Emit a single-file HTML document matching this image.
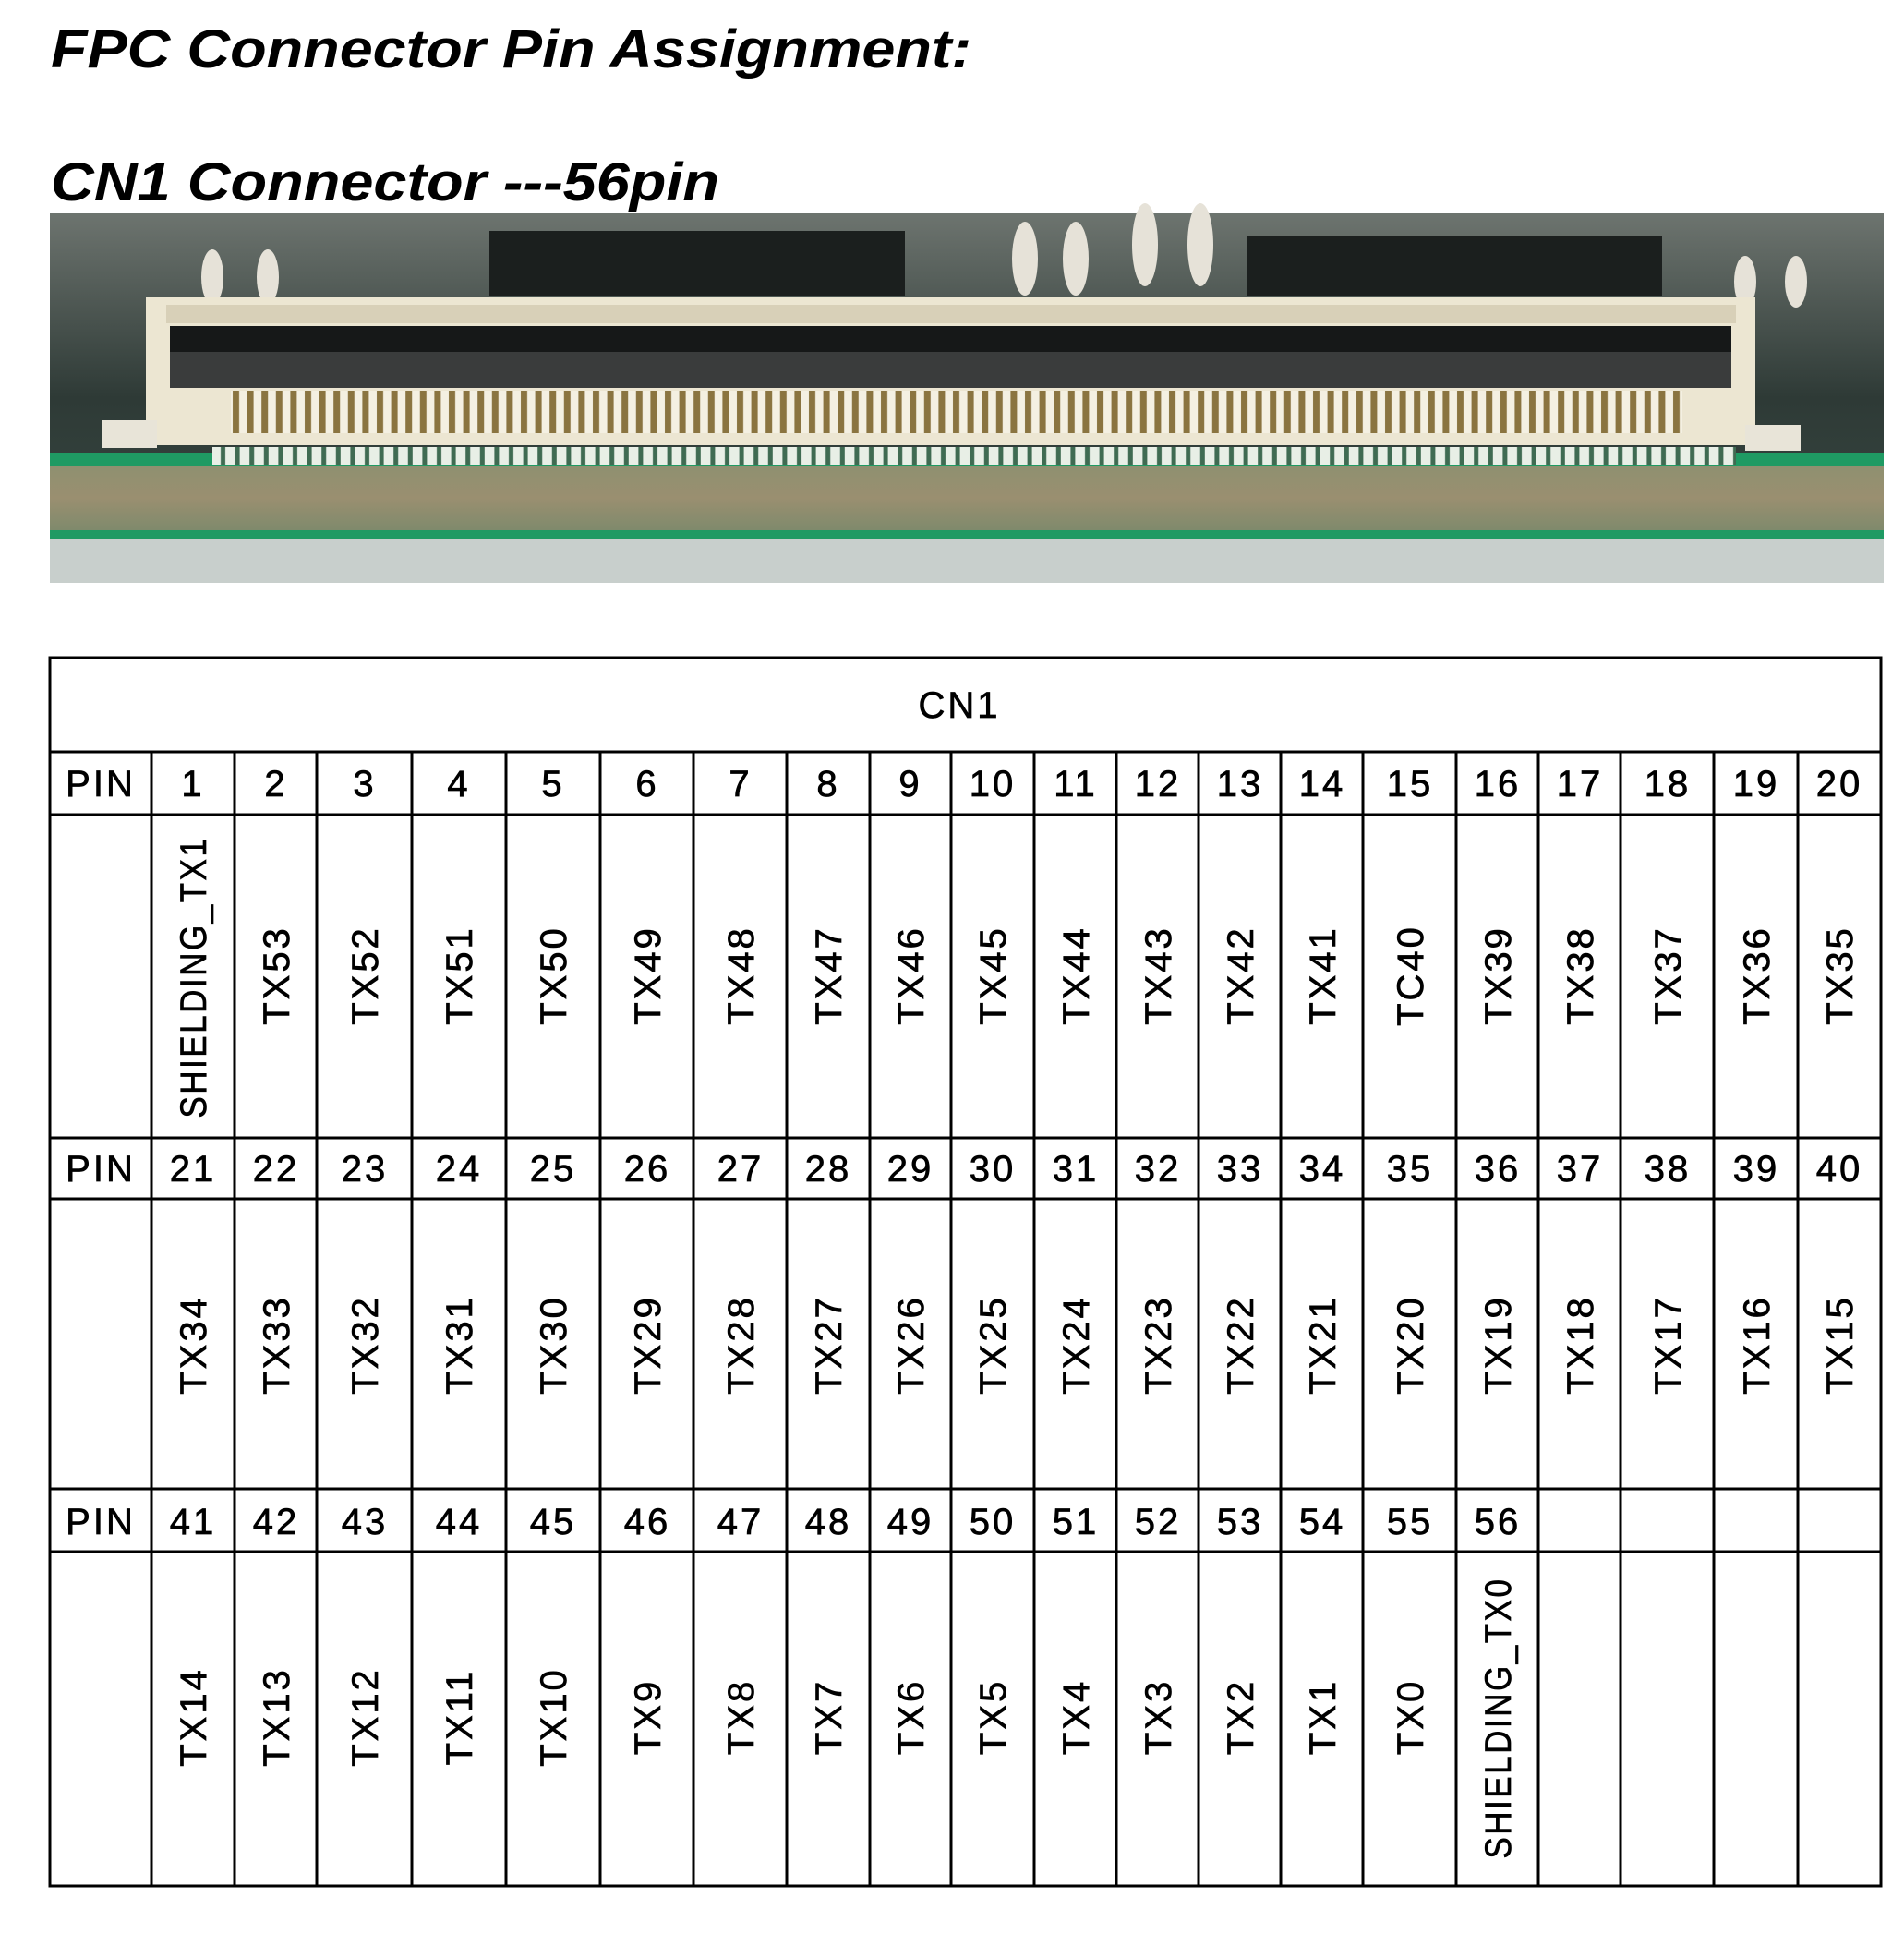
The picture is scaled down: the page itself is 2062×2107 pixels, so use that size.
<!DOCTYPE html>
<html><head><meta charset="utf-8"><style>
html,body{margin:0;padding:0;background:#fff;}
svg{display:block;}
.t{font-family:"Liberation Sans",sans-serif;font-weight:bold;font-style:italic;font-size:58px;fill:#000;}
.n{font-family:"Liberation Sans",sans-serif;font-size:40px;fill:#000;stroke:#000;stroke-width:0.7px;text-anchor:middle;letter-spacing:3px;}
.v{font-family:"Liberation Sans",sans-serif;font-size:40px;fill:#000;stroke:#000;stroke-width:0.7px;text-anchor:middle;letter-spacing:3px;}
</style></head><body>
<svg width="2062" height="2107" viewBox="0 0 2062 2107" xmlns="http://www.w3.org/2000/svg">
<defs>
<linearGradient id="bg" x1="0" y1="0" x2="0" y2="1">
<stop offset="0" stop-color="#6d746f"/><stop offset="0.5" stop-color="#2e3a36"/><stop offset="1" stop-color="#3a4a44"/>
</linearGradient>
<pattern id="pins" x="250" y="0" width="15.6" height="10" patternUnits="userSpaceOnUse">
<rect width="15.6" height="10" fill="#f4f0e2"/><rect x="2" width="7" height="10" fill="#8a7440"/>
</pattern>
<pattern id="dash" x="230" y="0" width="15.6" height="10" patternUnits="userSpaceOnUse">
<rect width="15.6" height="10" fill="#e8efe6"/><rect x="9" width="5" height="10" fill="#3f6b52"/>
</pattern>
<linearGradient id="pcb" x1="0" y1="0" x2="0" y2="1">
<stop offset="0" stop-color="#8f9070"/><stop offset="0.5" stop-color="#9a8f70"/><stop offset="1" stop-color="#7f8a6c"/>
</linearGradient>
</defs>
<text class="t" x="55" y="73" textLength="997" lengthAdjust="spacingAndGlyphs">FPC Connector Pin Assignment:</text>
<text class="t" x="55" y="217" textLength="724" lengthAdjust="spacingAndGlyphs">CN1 Connector ---56pin</text>

<rect x="54" y="231" width="1986" height="400" fill="url(#bg)"/>
<rect x="530" y="250" width="450" height="70" fill="#1b1f1e"/>
<rect x="1350" y="255" width="450" height="65" fill="#1b1f1e"/>
<ellipse cx="230" cy="300" rx="12" ry="30" fill="#e6e2d8"/><ellipse cx="290" cy="300" rx="12" ry="30" fill="#e6e2d8"/>
<ellipse cx="1110" cy="280" rx="14" ry="40" fill="#e6e2d8"/><ellipse cx="1165" cy="280" rx="14" ry="40" fill="#e6e2d8"/>
<ellipse cx="1240" cy="265" rx="14" ry="45" fill="#e6e2d8"/><ellipse cx="1300" cy="265" rx="14" ry="45" fill="#e6e2d8"/>
<ellipse cx="1890" cy="305" rx="12" ry="28" fill="#e6e2d8"/><ellipse cx="1945" cy="305" rx="12" ry="28" fill="#e6e2d8"/>
<rect x="54" y="490" width="1986" height="22" fill="#1f9a63"/>
<rect x="158" y="322" width="1743" height="160" fill="#ece6d2"/>
<rect x="180" y="330" width="1700" height="20" fill="#d8d0b8"/>
<rect x="184" y="353" width="1691" height="67" fill="#3a3c3c"/>
<rect x="184" y="353" width="1691" height="28" fill="#161818"/>
<rect x="250" y="423" width="1572" height="46" fill="url(#pins)"/>
<rect x="110" y="455" width="60" height="30" fill="#e8e4d8"/>
<rect x="1890" y="460" width="60" height="28" fill="#e8e4d8"/>
<rect x="230" y="484" width="1650" height="20" fill="url(#dash)"/>
<rect x="54" y="505" width="1986" height="69" fill="url(#pcb)"/>
<rect x="54" y="574" width="1986" height="10" fill="#1f9a63"/>
<rect x="54" y="584" width="1986" height="47" fill="#c8cfcc"/>

<g stroke="#000" stroke-width="3" fill="none">
<rect x="54" y="712" width="1983" height="1330"/>
<line x1="54" y1="814" x2="2037" y2="814"/>
<line x1="54" y1="882" x2="2037" y2="882"/>
<line x1="54" y1="1232" x2="2037" y2="1232"/>
<line x1="54" y1="1298" x2="2037" y2="1298"/>
<line x1="54" y1="1612" x2="2037" y2="1612"/>
<line x1="54" y1="1680" x2="2037" y2="1680"/>
<path d="M164 814V2042M254 814V2042M343 814V2042M446 814V2042M548 814V2042M650 814V2042M751 814V2042M852 814V2042M942 814V2042M1030 814V2042M1120 814V2042M1209 814V2042M1298 814V2042M1387 814V2042M1476 814V2042M1577 814V2042M1666 814V2042M1755 814V2042M1856 814V2042M1947 814V2042"/>
</g>
<text class="n" x="1039" y="777">CN1</text>

<g>
<text class="n" x="109" y="862">PIN</text>
<text class="n" x="209" y="862">1</text><text class="n" x="299" y="862">2</text><text class="n" x="395" y="862">3</text><text class="n" x="497" y="862">4</text><text class="n" x="599" y="862">5</text><text class="n" x="701" y="862">6</text><text class="n" x="802" y="862">7</text><text class="n" x="897" y="862">8</text><text class="n" x="986" y="862">9</text><text class="n" x="1075" y="862">10</text><text class="n" x="1165" y="862">11</text><text class="n" x="1254" y="862">12</text><text class="n" x="1343" y="862">13</text><text class="n" x="1432" y="862">14</text><text class="n" x="1527" y="862">15</text><text class="n" x="1622" y="862">16</text><text class="n" x="1711" y="862">17</text><text class="n" x="1806" y="862">18</text><text class="n" x="1902" y="862">19</text><text class="n" x="1992" y="862">20</text>
<text class="n" x="109" y="1279">PIN</text>
<text class="n" x="209" y="1279">21</text><text class="n" x="299" y="1279">22</text><text class="n" x="395" y="1279">23</text><text class="n" x="497" y="1279">24</text><text class="n" x="599" y="1279">25</text><text class="n" x="701" y="1279">26</text><text class="n" x="802" y="1279">27</text><text class="n" x="897" y="1279">28</text><text class="n" x="986" y="1279">29</text><text class="n" x="1075" y="1279">30</text><text class="n" x="1165" y="1279">31</text><text class="n" x="1254" y="1279">32</text><text class="n" x="1343" y="1279">33</text><text class="n" x="1432" y="1279">34</text><text class="n" x="1527" y="1279">35</text><text class="n" x="1622" y="1279">36</text><text class="n" x="1711" y="1279">37</text><text class="n" x="1806" y="1279">38</text><text class="n" x="1902" y="1279">39</text><text class="n" x="1992" y="1279">40</text>
<text class="n" x="109" y="1661">PIN</text>
<text class="n" x="209" y="1661">41</text><text class="n" x="299" y="1661">42</text><text class="n" x="395" y="1661">43</text><text class="n" x="497" y="1661">44</text><text class="n" x="599" y="1661">45</text><text class="n" x="701" y="1661">46</text><text class="n" x="802" y="1661">47</text><text class="n" x="897" y="1661">48</text><text class="n" x="986" y="1661">49</text><text class="n" x="1075" y="1661">50</text><text class="n" x="1165" y="1661">51</text><text class="n" x="1254" y="1661">52</text><text class="n" x="1343" y="1661">53</text><text class="n" x="1432" y="1661">54</text><text class="n" x="1527" y="1661">55</text><text class="n" x="1622" y="1661">56</text>
</g>

<text class="v" transform="translate(223,1058) rotate(-90)" textLength="305" lengthAdjust="spacingAndGlyphs">SHIELDING_TX1</text>
<text class="v" transform="translate(313,1056) rotate(-90)">TX53</text>
<text class="v" transform="translate(409,1056) rotate(-90)">TX52</text>
<text class="v" transform="translate(511,1056) rotate(-90)">TX51</text>
<text class="v" transform="translate(613,1056) rotate(-90)">TX50</text>
<text class="v" transform="translate(715,1056) rotate(-90)">TX49</text>
<text class="v" transform="translate(816,1056) rotate(-90)">TX48</text>
<text class="v" transform="translate(911,1056) rotate(-90)">TX47</text>
<text class="v" transform="translate(1000,1056) rotate(-90)">TX46</text>
<text class="v" transform="translate(1089,1056) rotate(-90)">TX45</text>
<text class="v" transform="translate(1179,1056) rotate(-90)">TX44</text>
<text class="v" transform="translate(1268,1056) rotate(-90)">TX43</text>
<text class="v" transform="translate(1357,1056) rotate(-90)">TX42</text>
<text class="v" transform="translate(1446,1056) rotate(-90)">TX41</text>
<text class="v" transform="translate(1541,1056) rotate(-90)">TC40</text>
<text class="v" transform="translate(1636,1056) rotate(-90)">TX39</text>
<text class="v" transform="translate(1725,1056) rotate(-90)">TX38</text>
<text class="v" transform="translate(1820,1056) rotate(-90)">TX37</text>
<text class="v" transform="translate(1916,1056) rotate(-90)">TX36</text>
<text class="v" transform="translate(2006,1056) rotate(-90)">TX35</text>
<text class="v" transform="translate(223,1456) rotate(-90)">TX34</text>
<text class="v" transform="translate(313,1456) rotate(-90)">TX33</text>
<text class="v" transform="translate(409,1456) rotate(-90)">TX32</text>
<text class="v" transform="translate(511,1456) rotate(-90)">TX31</text>
<text class="v" transform="translate(613,1456) rotate(-90)">TX30</text>
<text class="v" transform="translate(715,1456) rotate(-90)">TX29</text>
<text class="v" transform="translate(816,1456) rotate(-90)">TX28</text>
<text class="v" transform="translate(911,1456) rotate(-90)">TX27</text>
<text class="v" transform="translate(1000,1456) rotate(-90)">TX26</text>
<text class="v" transform="translate(1089,1456) rotate(-90)">TX25</text>
<text class="v" transform="translate(1179,1456) rotate(-90)">TX24</text>
<text class="v" transform="translate(1268,1456) rotate(-90)">TX23</text>
<text class="v" transform="translate(1357,1456) rotate(-90)">TX22</text>
<text class="v" transform="translate(1446,1456) rotate(-90)">TX21</text>
<text class="v" transform="translate(1541,1456) rotate(-90)">TX20</text>
<text class="v" transform="translate(1636,1456) rotate(-90)">TX19</text>
<text class="v" transform="translate(1725,1456) rotate(-90)">TX18</text>
<text class="v" transform="translate(1820,1456) rotate(-90)">TX17</text>
<text class="v" transform="translate(1916,1456) rotate(-90)">TX16</text>
<text class="v" transform="translate(2006,1456) rotate(-90)">TX15</text>
<text class="v" transform="translate(223,1859) rotate(-90)">TX14</text>
<text class="v" transform="translate(313,1859) rotate(-90)">TX13</text>
<text class="v" transform="translate(409,1859) rotate(-90)">TX12</text>
<text class="v" transform="translate(511,1859) rotate(-90)">TX11</text>
<text class="v" transform="translate(613,1859) rotate(-90)">TX10</text>
<text class="v" transform="translate(715,1859) rotate(-90)">TX9</text>
<text class="v" transform="translate(816,1859) rotate(-90)">TX8</text>
<text class="v" transform="translate(911,1859) rotate(-90)">TX7</text>
<text class="v" transform="translate(1000,1859) rotate(-90)">TX6</text>
<text class="v" transform="translate(1089,1859) rotate(-90)">TX5</text>
<text class="v" transform="translate(1179,1859) rotate(-90)">TX4</text>
<text class="v" transform="translate(1268,1859) rotate(-90)">TX3</text>
<text class="v" transform="translate(1357,1859) rotate(-90)">TX2</text>
<text class="v" transform="translate(1446,1859) rotate(-90)">TX1</text>
<text class="v" transform="translate(1541,1859) rotate(-90)">TX0</text>
<text class="v" transform="translate(1636,1860) rotate(-90)" textLength="305" lengthAdjust="spacingAndGlyphs">SHIELDING_TX0</text>
</svg>
</body></html>
